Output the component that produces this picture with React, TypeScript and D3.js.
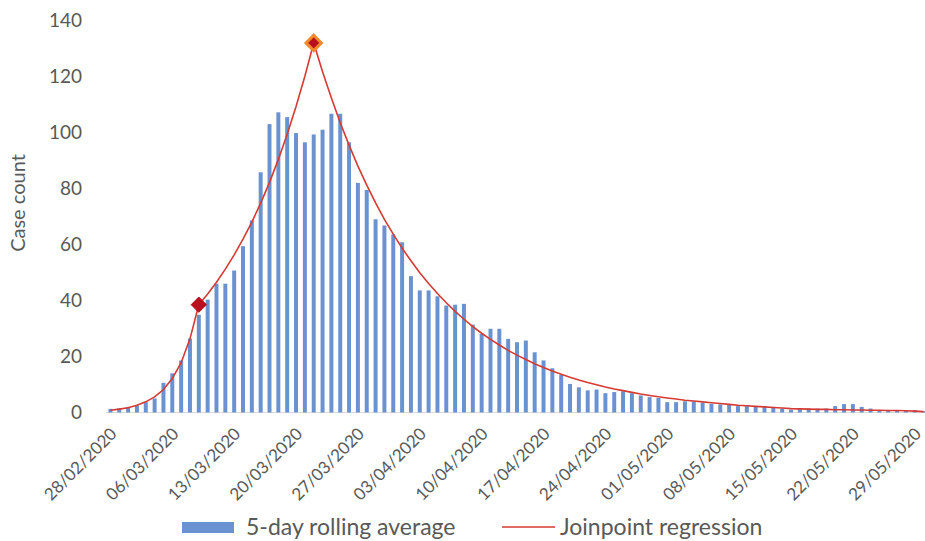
import { useEffect, useRef } from 'react';
import * as d3 from 'd3';

// one category per day, 28/02/2020 .. 30/05/2020
const startDate = new Date(2020, 1, 28);
const endDate = new Date(2020, 4, 31);

// 5-day rolling average (bars)
const rollingAvg = [
  1.3, 1.5, 2, 2.5, 3.7, 5, 10.6, 14, 18.6, 26.4,
  34.9, 40.3, 46, 46, 50.7, 59.4, 68.6, 85.8, 103, 107.2,
  105.5, 99.8, 96.5, 99.3, 101, 106.7, 106.7, 96.5, 82, 79.5,
  69, 66.8, 63.6, 60.8, 48.7, 43.6, 43.6, 41.5, 38.2, 38.5,
  38.8, 31.4, 28.1, 29.9, 29.9, 26.3, 25.1, 25.7, 21.5, 18.6,
  15.8, 13.4, 10.2, 9, 7.9, 8.2, 6.9, 7.3, 7.6, 6.9,
  6.1, 5.5, 5.2, 3.7, 3.7, 4, 4, 3.5, 3.1, 2.9,
  3, 2.3, 2.3, 2.3, 2.3, 2, 1.4, 1, 1.4, 1.4,
  1.4, 1.4, 2.3, 3, 3, 2, 1.4, 0.9, 0.9, 0.9,
  0.9, 0.9, 0.5,
];

// Joinpoint regression fitted values
const joinpoint = [
  0.8, 1.2, 1.7, 2.6, 3.8, 5.6, 8.2, 12.1, 17.8, 26.3,
  38.5, 42.3, 46.5, 51.2, 56.3, 61.9, 68.0, 74.8, 82.2, 90.4,
  99.4, 109.3, 120.1, 132.0, 121.7, 112.3, 103.5, 95.5, 88.0, 81.2,
  74.9, 69.0, 63.7, 58.7, 54.2, 49.9, 46.1, 42.5, 39.2, 36.1,
  33.3, 30.7, 28.3, 26.1, 24.1, 22.2, 20.5, 18.9, 17.4, 16.1,
  14.8, 13.7, 12.6, 11.6, 10.7, 9.9, 9.1, 8.4, 7.8, 7.2,
  6.6, 6.1, 5.6, 5.2, 4.8, 4.4, 4.1, 3.8, 3.5, 3.2,
  2.9, 2.6, 2.4, 2.2, 2.0, 1.8, 1.6, 1.4, 1.3, 1.2,
  1.1, 1.1, 1.0, 1.0, 0.9, 0.9, 0.8, 0.8, 0.7, 0.7,
  0.6, 0.5, 0.3,
];

// indices of the joinpoints (diamonds)
const joinpointIdx = [10, 23];

const tickLabels = [
  '28/02/2020', '06/03/2020', '13/03/2020', '20/03/2020', '27/03/2020',
  '03/04/2020', '10/04/2020', '17/04/2020', '24/04/2020', '01/05/2020',
  '08/05/2020', '15/05/2020', '22/05/2020', '29/05/2020',
];

const yTicks = [0, 20, 40, 60, 80, 100, 120, 140];

export default function App() {
  const svgRef = useRef<SVGSVGElement>(null);

  useEffect(() => {
    if (!svgRef.current) return;
    const svg = d3.select(svgRef.current);
    svg.selectAll('*').remove();

    const width = 925;
    const height = 541;
    const fmt = d3.timeFormat('%d/%m/%Y');
    const days = d3.timeDay.range(startDate, endDate).map(d => fmt(d));

    const x = d3.scaleBand()
      .domain(days)
      .range([106, 928])
      .paddingInner(0.55)
      .paddingOuter(0.275);
    const cx = (d: string) => (x(d) || 0) + x.bandwidth() / 2;

    const y = d3.scaleLinear().domain([0, 140]).range([412.5, 20.5]);

    const font = 'Lato, "Open Sans", sans-serif';
    const grey = '#595959';

    const defs = svg.append('defs');
    defs.append('clipPath').attr('id', 'plot')
      .append('rect').attr('x', 100).attr('y', 0).attr('width', width - 100).attr('height', 420);

    // y axis labels
    svg.append('g')
      .selectAll('text')
      .data(yTicks)
      .enter().append('text')
      .attr('x', 82)
      .attr('y', d => y(d))
      .attr('dy', '0.36em')
      .attr('text-anchor', 'end')
      .style('font-family', font)
      .style('font-size', '19px')
      .style('fill', grey)
      .text(d => d);

    svg.append('text')
      .attr('transform', `translate(25, 203) rotate(-90)`)
      .attr('text-anchor', 'middle')
      .style('font-family', font)
      .style('font-size', '20px')
      .style('fill', grey)
      .text('Case count');

    // axis line
    svg.append('line')
      .attr('x1', 106).attr('x2', width)
      .attr('y1', y(0)).attr('y2', y(0))
      .style('stroke', '#d9d9d9')
      .style('stroke-width', 1);

    const plot = svg.append('g').attr('clip-path', 'url(#plot)');

    // bars
    plot.selectAll('.bar')
      .data(rollingAvg)
      .enter().append('rect')
      .attr('class', 'bar')
      .attr('x', (d, i) => x(days[i]) || 0)
      .attr('width', x.bandwidth())
      .attr('y', d => y(d))
      .attr('height', d => y(0) - y(d))
      .attr('fill', '#6b92d0');

    // regression line
    const line = d3.line<number>()
      .x((d, i) => cx(days[i]))
      .y(d => y(d));

    plot.append('path')
      .datum(joinpoint)
      .attr('d', line)
      .attr('fill', 'none')
      .attr('stroke', '#d63a33')
      .attr('stroke-width', 1.6);

    // joinpoint markers
    const diamond = d3.symbol().type(d3.symbolDiamond2).size(150);
    svg.selectAll('.jp')
      .data(joinpointIdx)
      .enter().append('path')
      .attr('class', 'jp')
      .attr('d', diamond)
      .attr('transform', d => `translate(${cx(days[d])},${y(joinpoint[d])})`)
      .attr('fill', '#b8101e')
      .attr('stroke', (d, i) => (i === 1 ? '#f08a2c' : '#b8101e'))
      .attr('stroke-width', (d, i) => (i === 1 ? 3 : 1));

    // x tick labels, rotated
    svg.append('g')
      .selectAll('text')
      .data(tickLabels)
      .enter().append('text')
      .attr('transform', d => `translate(${cx(d) - 1},${y(0) + 14}) rotate(-45)`)
      .attr('dy', '0.7em')
      .attr('text-anchor', 'end')
      .style('font-family', font)
      .style('font-size', '17px')
      .style('fill', grey)
      .text(d => d);

    // legend
    const legend = svg.append('g').style('font-family', font).style('font-size', '23px').style('fill', grey);
    legend.append('rect')
      .attr('x', 182).attr('y', 522).attr('width', 52).attr('height', 11)
      .attr('fill', '#6b92d0');
    legend.append('text').attr('x', 246).attr('y', 535).text('5-day rolling average');
    legend.append('line')
      .attr('x1', 502).attr('x2', 555).attr('y1', 527).attr('y2', 527)
      .attr('stroke', '#d63a33').attr('stroke-width', 1.6);
    legend.append('text').attr('x', 560).attr('y', 535).text('Joinpoint regression');

    svg.attr('width', width).attr('height', height);
  }, []);

  return (
    <div style={{ position: 'absolute', left: 0, top: 0, width: 925, height: 541, background: '#fff' }}>
      <svg ref={svgRef} width={925} height={541} style={{ display: 'block' }}></svg>
    </div>
  );
}
